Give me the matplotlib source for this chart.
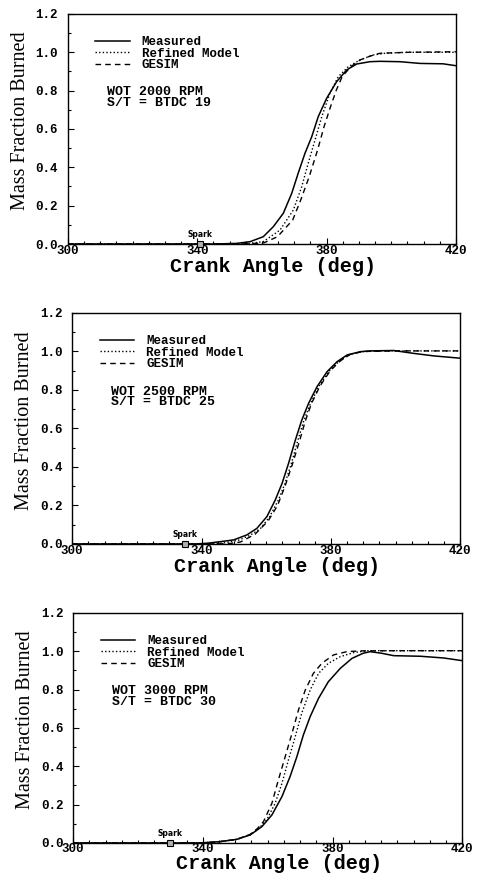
import matplotlib
matplotlib.use("Agg")
import matplotlib.pyplot as plt
from matplotlib.ticker import MultipleLocator

# Panel 1: WOT 2000 RPM, spark BTDC 19
meas1_x = [300, 345, 352, 356.3, 360.4, 363.5, 366.6, 369.2, 371.2, 373.3, 375.4, 377.4, 380, 383.1,
           386.2, 389.3, 393.4, 396.5, 402.7, 408.9, 416, 420]
meas1_y = [0.0, 0.0, 0.003, 0.012, 0.038, 0.09, 0.16, 0.264, 0.369, 0.473, 0.56, 0.664, 0.76, 0.847,
           0.908, 0.939, 0.951, 0.953, 0.951, 0.942, 0.94, 0.93]
ref1_x = [300, 350, 356, 360.4, 365.6, 369.7, 372.3, 374.3, 376.4, 378.5, 381, 383.6, 386.7, 390.3,
          394.4, 398, 405, 420]
ref1_y = [0.0, 0.0, 0.003, 0.012, 0.073, 0.177, 0.299, 0.421, 0.542, 0.664, 0.786, 0.873, 0.925, 0.96,
          0.986, 0.995, 1.0, 1.0]
ges1_x = [300, 352, 357, 360.6, 364.8, 369.5, 372, 374.6, 377.2, 379.2, 381.2, 383, 384.8, 387.5,
          390.3, 393.4, 396.5, 405, 420]
ges1_y = [0.0, 0.0, 0.002, 0.006, 0.038, 0.125, 0.23, 0.351, 0.49, 0.612, 0.716, 0.803, 0.873, 0.925,
          0.96, 0.98, 0.995, 1.0, 1.003]

# Panel 2: WOT 2500 RPM, spark BTDC 25
meas2_x = [300, 338, 342, 345.8, 349.9, 354, 357.1, 360.2, 362.8, 364.9, 366.9, 369, 371, 373.1, 375.7,
           378.8, 381.9, 385, 389.1, 392.2, 399.4, 405.6, 411.8, 420]
meas2_y = [0.0, 0.0, 0.004, 0.012, 0.021, 0.047, 0.081, 0.142, 0.229, 0.315, 0.419, 0.54, 0.644, 0.731,
           0.817, 0.895, 0.947, 0.982, 0.999, 1.003, 1.005, 0.99, 0.977, 0.965]
ref2_x = [300, 342, 347, 351.5, 355, 358.2, 361, 363.8, 365.8, 367.8, 369.8, 371.7, 373.7, 376.2, 379.3,
          382.4, 385.5, 389.5, 395, 420]
ref2_y = [0.0, 0.0, 0.006, 0.02, 0.045, 0.08, 0.14, 0.23, 0.315, 0.42, 0.54, 0.644, 0.73, 0.817, 0.895,
          0.947, 0.982, 0.999, 1.003, 1.003]
ges2_x = [300, 345, 349, 352, 356.5, 360.6, 363.5, 365.8, 368, 370.2, 372.1, 374, 376.6, 379.8, 382.8,
          386, 390, 400, 420]
ges2_y = [0.0, 0.0, 0.003, 0.01, 0.05, 0.12, 0.2, 0.3, 0.41, 0.53, 0.64, 0.73, 0.82, 0.9, 0.95,
          0.985, 1.0, 1.003, 1.003]

# Panel 3: WOT 3000 RPM, spark BTDC 30
meas3_x = [300, 338, 341, 345.3, 350.5, 354.6, 358.2, 361.3, 364.4, 366.9, 369, 371, 373.1, 375.7,
           378.7, 382.4, 386, 389.5, 391.6, 395, 398.9, 407.1, 414.3, 420]
meas3_y = [0.0, 0.0, 0.002, 0.007, 0.019, 0.042, 0.085, 0.146, 0.242, 0.346, 0.45, 0.563, 0.659, 0.755,
           0.841, 0.911, 0.963, 0.99, 0.998, 0.99, 0.977, 0.974, 0.965, 0.951]
ref3_x = [300, 338, 341, 345.3, 350.5, 354.6, 357.2, 359.7, 362.3, 364.4, 366.4, 368.5, 370.5, 373.1,
          375.7, 378.7, 382.4, 386.5, 390.6, 400, 420]
ref3_y = [0.0, 0.0, 0.002, 0.007, 0.019, 0.042, 0.075, 0.12, 0.207, 0.311, 0.433, 0.555, 0.677, 0.798,
          0.885, 0.937, 0.972, 0.993, 1.003, 1.003, 1.003]
ges3_x = [300, 338, 341, 345.3, 350.5, 354.6, 356.8, 358.7, 361.3, 363.3, 365.4, 367.5, 369.5, 371.6,
          374.1, 376.7, 380.3, 384.4, 388.5, 400, 420]
ges3_y = [0.0, 0.0, 0.002, 0.007, 0.019, 0.045, 0.075, 0.111, 0.207, 0.329, 0.45, 0.572, 0.694, 0.798,
          0.885, 0.937, 0.981, 0.998, 1.002, 1.003, 1.003]

spark_angles = [341, 335, 330]
conditions = ["WOT 2000 RPM\nS/T = BTDC 19", "WOT 2500 RPM\nS/T = BTDC 25", "WOT 3000 RPM\nS/T = BTDC 30"]
series_labels = ["Measured", "Refined Model", "GESIM"]
x_ticks = [300, 340, 380, 420]
y_ticks = [0.0, 0.2, 0.4, 0.6, 0.8, 1.0, 1.2]

panels = [
    ((meas1_x, meas1_y), (ref1_x, ref1_y), (ges1_x, ges1_y)),
    ((meas2_x, meas2_y), (ref2_x, ref2_y), (ges2_x, ges2_y)),
    ((meas3_x, meas3_y), (ref3_x, ref3_y), (ges3_x, ges3_y)),
]

rects = [
    [0.142, 0.7205, 0.812, 0.2635],
    [0.151, 0.3769, 0.812, 0.2646],
    [0.153, 0.0344, 0.814, 0.2635],
]
xlabel_y = [-0.056, -0.056, -0.049]
xtick_pad = [1, 1, 0]

mono = "Liberation Mono"
styles = [dict(ls="-", lw=1.1), dict(ls=(0, (1, 1.6)), lw=1.0), dict(ls=(0, (4, 3)), lw=1.0)]

fig = plt.figure(figsize=(4.78, 8.73), dpi=100)

for i, (curves, rect) in enumerate(zip(panels, rects)):
    ax = fig.add_axes(rect)
    for (xs, ys), st, lab in zip(curves, styles, series_labels):
        ax.plot(xs, ys, color="black", label=lab, solid_joinstyle="round", **st)

    # spark timing marker
    ax.plot([spark_angles[i]], [0.0], marker="s", ms=4.5, mfc="#b0b0b0", mec="black", mew=0.8,
            clip_on=False, zorder=5)
    ax.text(spark_angles[i], 0.025, "Spark", ha="center", va="bottom", fontsize=5.5,
            fontweight="bold", family="DejaVu Sans")

    ax.set_xlim(300, 420)
    ax.set_ylim(0, 1.2)
    ax.set_xticks(x_ticks)
    ax.set_yticks(y_ticks)
    ax.xaxis.set_minor_locator(MultipleLocator(5))
    ax.yaxis.set_minor_locator(MultipleLocator(0.1))
    ax.tick_params(which="both", direction="in", top=False, right=False, width=0.8)
    ax.tick_params(which="major", length=4)
    ax.tick_params(which="minor", length=2.5)
    ax.tick_params(axis="x", pad=xtick_pad[i])
    ax.tick_params(axis="y", pad=7)
    ax.set_xticklabels([str(t) for t in x_ticks], family=mono, fontweight="bold", fontsize=9)
    ax.set_yticklabels([f"{t:.1f}" for t in y_ticks], family=mono, fontweight="bold", fontsize=9)
    for sp in ax.spines.values():
        sp.set_linewidth(1.0)

    ax.set_xlabel("Crank Angle (deg)", family=mono, fontweight="bold", fontsize=14.5)
    ax.xaxis.set_label_coords(0.528, xlabel_y[i])
    ax.set_ylabel("Mass Fraction Burned", family="Liberation Serif", fontsize=14.5)
    ax.yaxis.set_label_coords(-0.098, 0.535)

    ax.legend(loc="upper left", bbox_to_anchor=(0.055, 0.93), frameon=False,
              prop=dict(family=mono, weight="bold", size=9),
              handlelength=2.75, handletextpad=0.95, labelspacing=-0.05, borderpad=0)
    ax.text(0.10, 0.685, conditions[i], transform=ax.transAxes, ha="left", va="top",
            family=mono, fontweight="bold", fontsize=9.5, linespacing=0.85)

fig.savefig("out.png", dpi=100)
